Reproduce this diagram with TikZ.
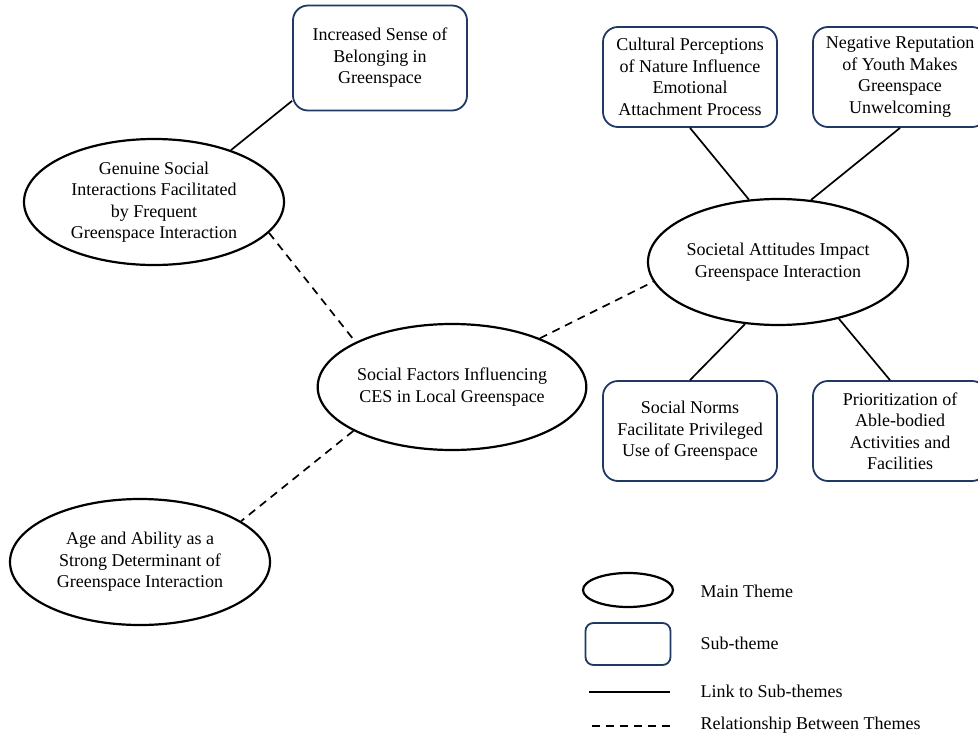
\documentclass[tikz,border=0pt]{standalone}
\usepackage{fontspec}
\setmainfont{Liberation Serif}
\usepackage{tikz}
\usetikzlibrary{shapes.geometric}
\definecolor{subblue}{RGB}{31,56,100}

\begin{document}
\begin{tikzpicture}[
    x=1pt, y=-1pt,
    every node/.style={font=\fontsize{18}{21.5}\selectfont, align=center},
    maintheme/.style={ellipse, draw=black, line width=2.2pt,
        minimum width=260pt, minimum height=126pt, inner sep=0pt},
    subtheme/.style={rectangle, rounded corners=15pt, draw=subblue,
        line width=1.8pt, minimum width=174pt, minimum height=100pt,
        inner sep=0pt},
    sublink/.style={line width=1.7pt},
    themelink/.style={line width=1.7pt, dash pattern=on 8pt off 6pt},
    keytext/.style={anchor=west}
]

\useasboundingbox (0,0) rectangle (978,736);

% Main themes
\node[maintheme] (genuine) at (154,202)
    {Genuine Social\\Interactions Facilitated\\by Frequent\\Greenspace Interaction};
\node[maintheme] (factors) at (452,387)
    {Social Factors Influencing\\CES in Local Greenspace};
\node[maintheme] (societal) at (778,262)
    {Societal Attitudes Impact\\Greenspace Interaction};
\node[maintheme] (age) at (140,562)
    {Age and Ability as a\\Strong Determinant of\\Greenspace Interaction};

% Sub-themes
\node[subtheme, minimum height=105pt] (belong) at (380,58)
    {Increased Sense of\\Belonging in\\Greenspace};
\node[subtheme] (cultural) at (690,77)
    {Cultural Perceptions\\of Nature Influence\\Emotional\\Attachment Process};
\node[subtheme] (youth) at (900,77)
    {Negative Reputation\\of Youth Makes\\Greenspace\\Unwelcoming};
\node[subtheme] (norms) at (690,431)
    {Social Norms\\Facilitate Privileged\\Use of Greenspace};
\node[subtheme] (prior) at (900,431)
    {Prioritization of\\Able-bodied\\Activities and\\Facilities};

% Links to sub-themes
\draw[sublink] (genuine.34) -- (belong.206);
\draw[sublink] (cultural.south) -- (societal.115);
\draw[sublink] (youth.south) -- (societal.62);
\draw[sublink] (societal.242) -- (norms.north);
\draw[sublink] (societal.-43) -- ([xshift=-10pt]prior.north);

% Relationships between themes
\draw[themelink] (genuine.-15) -- (factors.155);
\draw[themelink] (factors.29) -- (societal.189);
\draw[themelink] (factors.204) -- (age.22);

% Legend
\node[maintheme, minimum width=90pt, minimum height=34pt] (keymain) at (628,590) {};
\node[subtheme, minimum width=85pt, minimum height=42pt, rounded corners=8pt]
    (keysub) at (628,644) {};
\coordinate (keylinkA) at (589,692);
\coordinate (keylinkB) at (670,692);
\coordinate (keyrelA) at (592,726);
\coordinate (keyrelB) at (671,726);
\draw[sublink] (keylinkA) -- (keylinkB);
\draw[themelink] (keyrelA) -- (keyrelB);

\node[keytext] (keymaintxt) at (697,591) {Main Theme};
\node[keytext] (keysubtxt) at (697,643) {Sub-theme};
\node[keytext] (keylinktxt) at (697,691) {Link to Sub-themes};
\node[keytext] (keyreltxt) at (697,725) {Relationship Between Themes};

\end{tikzpicture}
\end{document}
